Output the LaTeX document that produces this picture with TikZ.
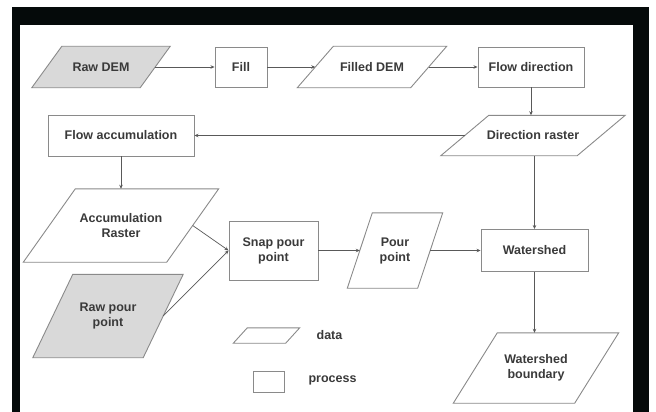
\documentclass[tikz,border=0pt]{standalone}
\usepackage{fontspec}
\setmainfont{Liberation Sans}
\usetikzlibrary{arrows.meta,backgrounds}

\definecolor{framec}{HTML}{050A0A}
\definecolor{linec}{HTML}{8A8A8A}
\definecolor{textc}{HTML}{3A3A3A}
\definecolor{rawfill}{HTML}{D9D9D9}

\tikzset{
  every node/.style={font=\fontsize{12.5}{15}\selectfont\bfseries, text=textc, align=center},
  process/.style={draw=linec, line width=0.9pt, fill=white, inner sep=0pt},
  data/.style={inner sep=0pt},
  link/.style={draw=black!65, line width=0.7pt, -{Stealth[length=4pt,width=3.5pt]}},
}

% outline of a data node: fill, node name, half of the slant
\newcommand{\dataframe}[3][white]{%
  \filldraw[draw=linec, line width=0.9pt, fill=#1]
    ([xshift=#3]#2.north west) -- ([xshift=#3]#2.north east)
    -- ([xshift=-#3]#2.south east) -- ([xshift=-#3]#2.south west) -- cycle;}

\begin{document}
\begin{tikzpicture}[x=1pt, y=-1pt]
	\useasboundingbox (0,0) rectangle (656,412);
	% first row
	\node[data, minimum width=108pt, minimum height=41pt] (rawdem) at (101,67) {Raw DEM};
	\node[process, minimum width=52pt, minimum height=40pt] (fill) at (241,67) {Fill};
	\node[data, minimum width=113pt, minimum height=41pt] (filleddem) at (372,67) {Filled DEM};
	\node[process, minimum width=106pt, minimum height=40pt] (flowdir) at (531,67) {Flow direction};
	% second row
	\node[process, minimum width=146pt, minimum height=41pt] (flowacc) at (121,135.5) {Flow accumulation};
	\node[data, minimum width=136pt, minimum height=40pt] (dirraster) at (533,135.5) {Direction raster};
	% lower part
	\node[data, minimum width=143pt, minimum height=73pt] (accraster) at (121,225.5) {Accumulation\\Raster};
	\node[data, minimum width=110pt, minimum height=83pt] (rawpour) at (108,316) {Raw pour\\point};
	\node[process, minimum width=89pt, minimum height=59pt] (snap) at (273.5,250.5) {Snap pour\\point};
	\node[data, minimum width=70pt, minimum height=75pt] (pourpoint) at (395,250.5) {Pour\\point};
	\node[process, minimum width=107pt, minimum height=42pt] (watershed) at (534.5,250.5) {Watershed};
	\node[data, minimum width=121pt, minimum height=70pt] (wsboundary) at (536,368) {Watershed\\boundary};
	% legend
	\node[data, minimum width=52pt, minimum height=15pt] (legdata) at (266.5,335.5) {};
	\node (legdatatext) at (329.5,335.5) {data};
	\node[process, minimum width=31pt, minimum height=21pt] (legproc) at (268.5,381.5) {};
	\node (legproctext) at (332.5,380.5) {process};

	\draw[link] (rawdem.east) -- (fill.west);
	\draw[link] (fill.east) -- (filleddem.west);
	\draw[link] (filleddem.east) -- (flowdir.west);
	\draw[link] (flowdir.south) -- (flowdir.south |- dirraster.north);
	\draw[link] (dirraster.west) -- (flowacc.east);
	\draw[link] (flowacc.south) -- (flowacc.south |- accraster.north);
	\draw[link] (watershed.north |- dirraster.south) -- (watershed.north);
	\draw[link] (accraster.east) -- (snap.west);
	\draw[link] (rawpour.east) -- (snap.west);
	\draw[link] (snap.east) -- (pourpoint.west);
	\draw[link] (pourpoint.east) -- (watershed.west);
	\draw[link] (watershed.south) -- (watershed.south |- wsboundary.north);

	\begin{scope}[on background layer]
		\fill[framec] (12,7) rectangle (649,412);
		\fill[white] (20,25) rectangle (633,412);
		\dataframe[rawfill]{rawdem}{15}
		\dataframe{filleddem}{18}
		\dataframe{dirraster}{24}
		\dataframe{accraster}{26}
		\dataframe[rawfill]{rawpour}{20}
		\dataframe{pourpoint}{12.5}
		\dataframe{wsboundary}{22}
		\dataframe{legdata}{7}
	\end{scope}
\end{tikzpicture}
\end{document}
